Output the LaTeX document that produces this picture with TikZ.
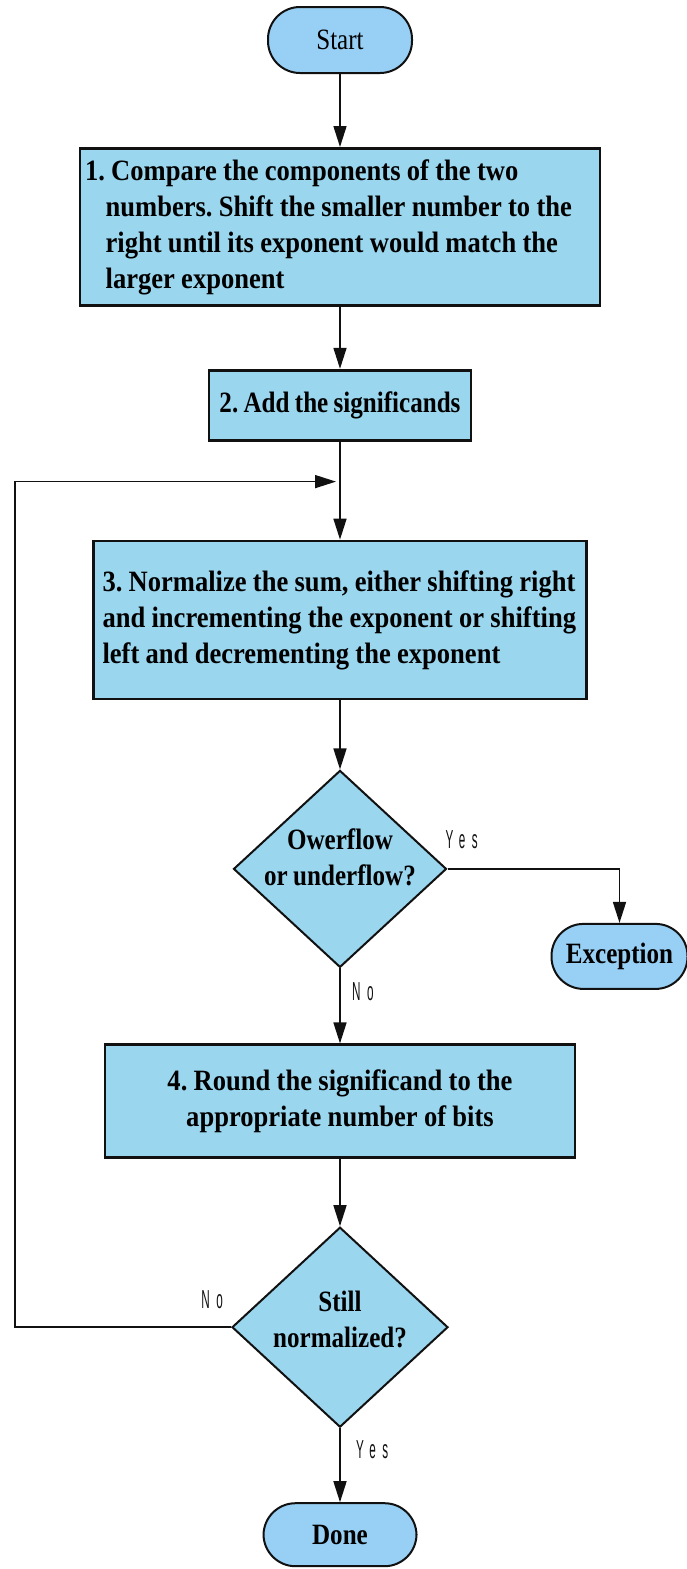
\documentclass[tikz,border=0pt]{standalone}
\usepackage{fontspec}
\setmainfont{Liberation Serif}[FakeStretch=0.85,WordSpace=0.85]
\newfontfamily\widefont{Liberation Serif}[FakeStretch=0.9,WordSpace=0.95]
\newfontfamily\answerfont[FakeStretch=0.45,LetterSpace=25]{Liberation Sans}
\usetikzlibrary{arrows.meta,positioning,shapes.geometric,calc}
\definecolor{stepfill}{HTML}{9AD6EE}
\definecolor{termfill}{HTML}{98D0F5}
\definecolor{line}{HTML}{111111}
\tikzset{
  font=\bfseries\fontsize{29.5}{36}\selectfont,
  process/.style={
    draw=line,
    line width=2.8pt,
    fill=stepfill,
    inner sep=5pt
  },
  longtext/.style={
    font=\widefont\bfseries\fontsize{29.5}{36}\selectfont
  },
  terminal/.style={
    draw=line,
    line width=2pt,
    fill=termfill,
    rounded corners=32pt,
    minimum height=66pt
  },
  decision/.style={
    diamond,
    draw=line,
    line width=2pt,
    fill=stepfill,
    inner sep=0pt
  },
  arrow/.style={
    -{Triangle[length=21pt,width=13pt]},
    draw=line,
    line width=1.6pt
  },
  answer/.style={
    font=\answerfont\fontsize{26}{26}\selectfont,
    text=line,
    inner sep=0pt
  }
}

\begin{document}
\frenchspacing
\begin{tikzpicture}
\useasboundingbox (0,0) rectangle (686pt,-1569pt);

% Main column, top to bottom.
\node[terminal, minimum width=144pt, font=\mdseries\fontsize{29.5}{36}\selectfont] (start) at (340pt,-40pt) {Start};

\node[process, longtext, below=73pt of start, text width=510pt, minimum height=157pt, align=flush left] (compare)
  {1. Compare the components of the two\\
   \hspace*{0.7em}numbers. Shift the smaller number to the\\
   \hspace*{0.7em}right until its exponent would match the\\
   \hspace*{0.7em}larger exponent};

\node[process, below=62pt of compare, minimum width=262pt, minimum height=70pt] (add)
  {2. Add the significands};

\node[process, longtext, below=98pt of add, text width=475pt, inner xsep=9pt, minimum height=158pt, align=flush left] (normalize)
  {3. Normalize the sum, either shifting right\\
   and incrementing the exponent or shifting\\
   left and decrementing the exponent};

\node[decision, below=69pt of normalize, minimum width=213pt, minimum height=197pt,
  label={[align=flush center, yshift=12pt]center:Owerflow\\or underflow?}] (overflow) {};

\node[process, longtext, below=75pt of overflow, minimum width=470pt, minimum height=113pt, align=flush center] (round)
  {4. Round the significand to the\\appropriate number of bits};

\node[decision, below=67pt of round, minimum width=216pt, minimum height=200pt,
  label={[align=flush center, yshift=8pt]center:Still\\normalized?}] (still) {};

\node[terminal, below=74pt of still, minimum width=153pt, minimum height=63pt] (done) {Done};

% Side exit for the exception.
\node[terminal, below=54pt of overflow.east, xshift=172pt, minimum width=136pt, minimum height=65pt] (exception) {Exception};

\coordinate (merge) at ([yshift=-40pt]add.south);

\draw[arrow] (start) -- (compare);
\draw[arrow] (compare) -- (add);
\draw[arrow] (add) -- (normalize);
\draw[arrow] (normalize) -- (overflow);
\draw[arrow] (overflow) -- (round);
\draw[arrow] (round) -- (still);
\draw[arrow] (still) -- (done);
\draw[arrow] (overflow.east) -| (exception.north);
\draw[arrow, shorten >=4pt] (still.west) -- ++(-216pt,0) |- (merge);

% Branch labels.
\node[answer, anchor=south west] (ovfyes) at ([shift={(-2pt,20pt)}]overflow.east) {Yes};
\node[answer, anchor=north west] (ovfno) at ([shift={(12pt,-14pt)}]overflow.south) {No};
\node[answer, anchor=south east] (stillno) at ([shift={(-8pt,18pt)}]still.west) {No};
\node[answer, anchor=north west] (stillyes) at ([shift={(16pt,-12pt)}]still.south) {Yes};

\end{tikzpicture}
\end{document}
